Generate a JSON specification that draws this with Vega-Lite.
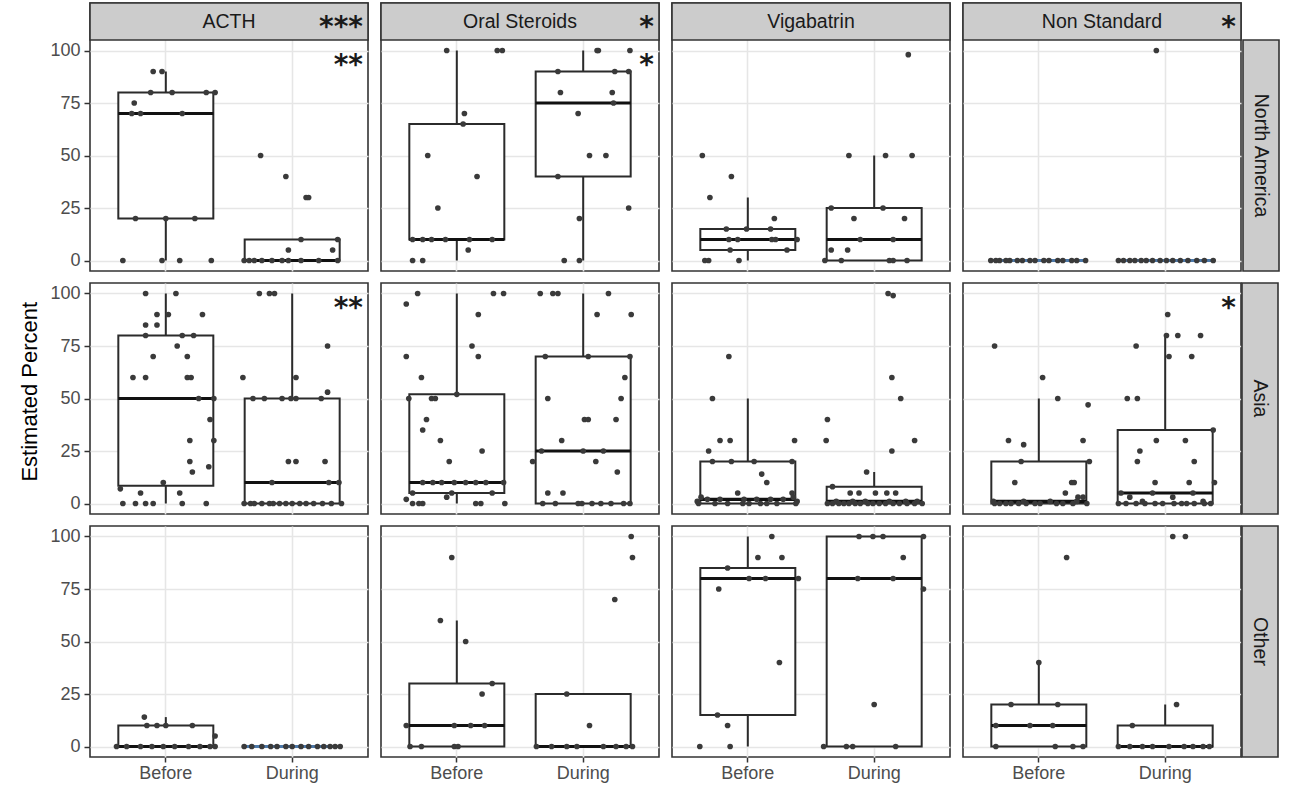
{
  "$schema": "https://vega.github.io/schema/vega-lite/v6.json",
  "background": "white",
  "padding": {"left": 18, "top": 1, "right": 10, "bottom": 4},
  "title": {"text": "Estimated Percent", "orient": "left", "anchor": "middle", "fontSize": 22, "fontWeight": "normal", "font": "Liberation Sans", "color": "#000000", "offset": 8},
  "data": {"name": "main"},
  "datasets": {
    "main": [
      {"kind":"strip","region":"North America","drug":"ACTH","label":"ACTH","stars":"***"},
      {"kind":"strip","region":"North America","drug":"Oral Steroids","label":"Oral Steroids","stars":"*"},
      {"kind":"strip","region":"North America","drug":"Vigabatrin","label":"Vigabatrin","stars":""},
      {"kind":"strip","region":"North America","drug":"Non Standard","label":"Non Standard","stars":"*"},
      {"kind":"star","region":"North America","drug":"ACTH","stars":"**"},
      {"kind":"star","region":"North America","drug":"Oral Steroids","stars":"*"},
      {"kind":"star","region":"Asia","drug":"ACTH","stars":"**"},
      {"kind":"star","region":"Asia","drug":"Non Standard","stars":"*"},
      {"kind":"rstrip","region":"North America","label":"North America"},
      {"kind":"rstrip","region":"Asia","label":"Asia"},
      {"kind":"rstrip","region":"Other","label":"Other"},

      {"region":"North America","drug":"ACTH","phase":"Before","value":90,"jitter":-0.1},
      {"region":"North America","drug":"ACTH","phase":"Before","value":90,"jitter":-0.03},
      {"region":"North America","drug":"ACTH","phase":"Before","value":75,"jitter":-0.25},
      {"region":"North America","drug":"ACTH","phase":"Before","value":80,"jitter":-0.12},
      {"region":"North America","drug":"ACTH","phase":"Before","value":80,"jitter":0.05},
      {"region":"North America","drug":"ACTH","phase":"Before","value":80,"jitter":0.32},
      {"region":"North America","drug":"ACTH","phase":"Before","value":80,"jitter":0.39},
      {"region":"North America","drug":"ACTH","phase":"Before","value":70,"jitter":-0.27},
      {"region":"North America","drug":"ACTH","phase":"Before","value":70,"jitter":-0.2},
      {"region":"North America","drug":"ACTH","phase":"Before","value":70,"jitter":0.13},
      {"region":"North America","drug":"ACTH","phase":"Before","value":20,"jitter":-0.24},
      {"region":"North America","drug":"ACTH","phase":"Before","value":20,"jitter":0.0},
      {"region":"North America","drug":"ACTH","phase":"Before","value":20,"jitter":0.23},
      {"region":"North America","drug":"ACTH","phase":"Before","value":0,"jitter":-0.34},
      {"region":"North America","drug":"ACTH","phase":"Before","value":0,"jitter":-0.03},
      {"region":"North America","drug":"ACTH","phase":"Before","value":0,"jitter":0.11},
      {"region":"North America","drug":"ACTH","phase":"Before","value":0,"jitter":0.36},

      {"region":"North America","drug":"ACTH","phase":"During","value":50,"jitter":-0.25},
      {"region":"North America","drug":"ACTH","phase":"During","value":40,"jitter":-0.05},
      {"region":"North America","drug":"ACTH","phase":"During","value":30,"jitter":0.11},
      {"region":"North America","drug":"ACTH","phase":"During","value":30,"jitter":0.13},
      {"region":"North America","drug":"ACTH","phase":"During","value":10,"jitter":0.07},
      {"region":"North America","drug":"ACTH","phase":"During","value":10,"jitter":0.36},
      {"region":"North America","drug":"ACTH","phase":"During","value":5,"jitter":-0.03},
      {"region":"North America","drug":"ACTH","phase":"During","value":5,"jitter":0.32},
      {"region":"North America","drug":"ACTH","phase":"During","value":0,"jitter":-0.38},
      {"region":"North America","drug":"ACTH","phase":"During","value":0,"jitter":-0.34},
      {"region":"North America","drug":"ACTH","phase":"During","value":0,"jitter":-0.3},
      {"region":"North America","drug":"ACTH","phase":"During","value":0,"jitter":-0.24},
      {"region":"North America","drug":"ACTH","phase":"During","value":0,"jitter":-0.16},
      {"region":"North America","drug":"ACTH","phase":"During","value":0,"jitter":-0.08},
      {"region":"North America","drug":"ACTH","phase":"During","value":0,"jitter":-0.03},
      {"region":"North America","drug":"ACTH","phase":"During","value":0,"jitter":0.07},
      {"region":"North America","drug":"ACTH","phase":"During","value":0,"jitter":0.21},
      {"region":"North America","drug":"ACTH","phase":"During","value":0,"jitter":0.36},

      {"region":"North America","drug":"Oral Steroids","phase":"Before","value":100,"jitter":-0.08},
      {"region":"North America","drug":"Oral Steroids","phase":"Before","value":100,"jitter":0.32},
      {"region":"North America","drug":"Oral Steroids","phase":"Before","value":100,"jitter":0.36},
      {"region":"North America","drug":"Oral Steroids","phase":"Before","value":70,"jitter":0.06},
      {"region":"North America","drug":"Oral Steroids","phase":"Before","value":65,"jitter":0.05},
      {"region":"North America","drug":"Oral Steroids","phase":"Before","value":50,"jitter":-0.23},
      {"region":"North America","drug":"Oral Steroids","phase":"Before","value":40,"jitter":0.16},
      {"region":"North America","drug":"Oral Steroids","phase":"Before","value":25,"jitter":-0.15},
      {"region":"North America","drug":"Oral Steroids","phase":"Before","value":10,"jitter":-0.27},
      {"region":"North America","drug":"Oral Steroids","phase":"Before","value":10,"jitter":-0.2},
      {"region":"North America","drug":"Oral Steroids","phase":"Before","value":10,"jitter":-0.09},
      {"region":"North America","drug":"Oral Steroids","phase":"Before","value":10,"jitter":0.28},
      {"region":"North America","drug":"Oral Steroids","phase":"Before","value":10,"jitter":-0.35},
      {"region":"North America","drug":"Oral Steroids","phase":"Before","value":10,"jitter":0.1},
      {"region":"North America","drug":"Oral Steroids","phase":"Before","value":5,"jitter":0.09},
      {"region":"North America","drug":"Oral Steroids","phase":"Before","value":0,"jitter":-0.35},
      {"region":"North America","drug":"Oral Steroids","phase":"Before","value":0,"jitter":-0.27},

      {"region":"North America","drug":"Oral Steroids","phase":"During","value":100,"jitter":0.11},
      {"region":"North America","drug":"Oral Steroids","phase":"During","value":100,"jitter":0.12},
      {"region":"North America","drug":"Oral Steroids","phase":"During","value":100,"jitter":0.37},
      {"region":"North America","drug":"Oral Steroids","phase":"During","value":90,"jitter":-0.2},
      {"region":"North America","drug":"Oral Steroids","phase":"During","value":90,"jitter":0.25},
      {"region":"North America","drug":"Oral Steroids","phase":"During","value":90,"jitter":0.36},
      {"region":"North America","drug":"Oral Steroids","phase":"During","value":80,"jitter":-0.18},
      {"region":"North America","drug":"Oral Steroids","phase":"During","value":80,"jitter":0.23},
      {"region":"North America","drug":"Oral Steroids","phase":"During","value":75,"jitter":0.24},
      {"region":"North America","drug":"Oral Steroids","phase":"During","value":70,"jitter":-0.04},
      {"region":"North America","drug":"Oral Steroids","phase":"During","value":50,"jitter":0.05},
      {"region":"North America","drug":"Oral Steroids","phase":"During","value":50,"jitter":0.18},
      {"region":"North America","drug":"Oral Steroids","phase":"During","value":40,"jitter":-0.2},
      {"region":"North America","drug":"Oral Steroids","phase":"During","value":25,"jitter":0.36},
      {"region":"North America","drug":"Oral Steroids","phase":"During","value":20,"jitter":-0.03},
      {"region":"North America","drug":"Oral Steroids","phase":"During","value":0,"jitter":-0.15},
      {"region":"North America","drug":"Oral Steroids","phase":"During","value":0,"jitter":-0.03},

      {"region":"North America","drug":"Vigabatrin","phase":"Before","value":50,"jitter":-0.36},
      {"region":"North America","drug":"Vigabatrin","phase":"Before","value":40,"jitter":-0.13},
      {"region":"North America","drug":"Vigabatrin","phase":"Before","value":30,"jitter":-0.3},
      {"region":"North America","drug":"Vigabatrin","phase":"Before","value":20,"jitter":0.21},
      {"region":"North America","drug":"Vigabatrin","phase":"Before","value":15,"jitter":-0.17},
      {"region":"North America","drug":"Vigabatrin","phase":"Before","value":15,"jitter":0.18},
      {"region":"North America","drug":"Vigabatrin","phase":"Before","value":15,"jitter":-0.01},
      {"region":"North America","drug":"Vigabatrin","phase":"Before","value":10,"jitter":-0.15},
      {"region":"North America","drug":"Vigabatrin","phase":"Before","value":10,"jitter":-0.08},
      {"region":"North America","drug":"Vigabatrin","phase":"Before","value":10,"jitter":0.19},
      {"region":"North America","drug":"Vigabatrin","phase":"Before","value":10,"jitter":0.22},
      {"region":"North America","drug":"Vigabatrin","phase":"Before","value":10,"jitter":0.39},
      {"region":"North America","drug":"Vigabatrin","phase":"Before","value":5,"jitter":-0.14},
      {"region":"North America","drug":"Vigabatrin","phase":"Before","value":5,"jitter":0.31},
      {"region":"North America","drug":"Vigabatrin","phase":"Before","value":0,"jitter":-0.34},
      {"region":"North America","drug":"Vigabatrin","phase":"Before","value":0,"jitter":-0.31},
      {"region":"North America","drug":"Vigabatrin","phase":"Before","value":0,"jitter":-0.07},

      {"region":"North America","drug":"Vigabatrin","phase":"During","value":98,"jitter":0.27},
      {"region":"North America","drug":"Vigabatrin","phase":"During","value":50,"jitter":-0.2},
      {"region":"North America","drug":"Vigabatrin","phase":"During","value":50,"jitter":0.09},
      {"region":"North America","drug":"Vigabatrin","phase":"During","value":50,"jitter":0.3},
      {"region":"North America","drug":"Vigabatrin","phase":"During","value":25,"jitter":0.07},
      {"region":"North America","drug":"Vigabatrin","phase":"During","value":25,"jitter":-0.34},
      {"region":"North America","drug":"Vigabatrin","phase":"During","value":20,"jitter":-0.16},
      {"region":"North America","drug":"Vigabatrin","phase":"During","value":20,"jitter":0.24},
      {"region":"North America","drug":"Vigabatrin","phase":"During","value":10,"jitter":-0.11},
      {"region":"North America","drug":"Vigabatrin","phase":"During","value":10,"jitter":0.15},
      {"region":"North America","drug":"Vigabatrin","phase":"During","value":5,"jitter":-0.34},
      {"region":"North America","drug":"Vigabatrin","phase":"During","value":5,"jitter":-0.21},
      {"region":"North America","drug":"Vigabatrin","phase":"During","value":0,"jitter":-0.39},
      {"region":"North America","drug":"Vigabatrin","phase":"During","value":0,"jitter":-0.26},
      {"region":"North America","drug":"Vigabatrin","phase":"During","value":0,"jitter":0.12},
      {"region":"North America","drug":"Vigabatrin","phase":"During","value":0,"jitter":0.15},
      {"region":"North America","drug":"Vigabatrin","phase":"During","value":0,"jitter":0.26},

      {"region":"North America","drug":"Non Standard","phase":"Before","value":0,"jitter":-0.38},
      {"region":"North America","drug":"Non Standard","phase":"Before","value":0,"jitter":-0.34},
      {"region":"North America","drug":"Non Standard","phase":"Before","value":0,"jitter":-0.31},
      {"region":"North America","drug":"Non Standard","phase":"Before","value":0,"jitter":-0.26},
      {"region":"North America","drug":"Non Standard","phase":"Before","value":0,"jitter":-0.23},
      {"region":"North America","drug":"Non Standard","phase":"Before","value":0,"jitter":-0.17},
      {"region":"North America","drug":"Non Standard","phase":"Before","value":0,"jitter":-0.13},
      {"region":"North America","drug":"Non Standard","phase":"Before","value":0,"jitter":-0.07},
      {"region":"North America","drug":"Non Standard","phase":"Before","value":0,"jitter":-0.03},
      {"region":"North America","drug":"Non Standard","phase":"Before","value":0,"jitter":0.04},
      {"region":"North America","drug":"Non Standard","phase":"Before","value":0,"jitter":0.08},
      {"region":"North America","drug":"Non Standard","phase":"Before","value":0,"jitter":0.15},
      {"region":"North America","drug":"Non Standard","phase":"Before","value":0,"jitter":0.19},
      {"region":"North America","drug":"Non Standard","phase":"Before","value":0,"jitter":0.26},
      {"region":"North America","drug":"Non Standard","phase":"Before","value":0,"jitter":0.3},
      {"region":"North America","drug":"Non Standard","phase":"Before","value":0,"jitter":0.37},

      {"region":"North America","drug":"Non Standard","phase":"During","value":100,"jitter":-0.07},
      {"region":"North America","drug":"Non Standard","phase":"During","value":0,"jitter":-0.37},
      {"region":"North America","drug":"Non Standard","phase":"During","value":0,"jitter":-0.33},
      {"region":"North America","drug":"Non Standard","phase":"During","value":0,"jitter":-0.28},
      {"region":"North America","drug":"Non Standard","phase":"During","value":0,"jitter":-0.24},
      {"region":"North America","drug":"Non Standard","phase":"During","value":0,"jitter":-0.19},
      {"region":"North America","drug":"Non Standard","phase":"During","value":0,"jitter":-0.15},
      {"region":"North America","drug":"Non Standard","phase":"During","value":0,"jitter":-0.1},
      {"region":"North America","drug":"Non Standard","phase":"During","value":0,"jitter":-0.04},
      {"region":"North America","drug":"Non Standard","phase":"During","value":0,"jitter":0.01},
      {"region":"North America","drug":"Non Standard","phase":"During","value":0,"jitter":0.06},
      {"region":"North America","drug":"Non Standard","phase":"During","value":0,"jitter":0.12},
      {"region":"North America","drug":"Non Standard","phase":"During","value":0,"jitter":0.18},
      {"region":"North America","drug":"Non Standard","phase":"During","value":0,"jitter":0.25},
      {"region":"North America","drug":"Non Standard","phase":"During","value":0,"jitter":0.31},
      {"region":"North America","drug":"Non Standard","phase":"During","value":0,"jitter":0.38},

      {"region":"Asia","drug":"ACTH","phase":"Before","value":100,"jitter":-0.16},
      {"region":"Asia","drug":"ACTH","phase":"Before","value":100,"jitter":0.08},
      {"region":"Asia","drug":"ACTH","phase":"Before","value":90,"jitter":-0.07},
      {"region":"Asia","drug":"ACTH","phase":"Before","value":90,"jitter":0.02},
      {"region":"Asia","drug":"ACTH","phase":"Before","value":90,"jitter":0.29},
      {"region":"Asia","drug":"ACTH","phase":"Before","value":85,"jitter":-0.16},
      {"region":"Asia","drug":"ACTH","phase":"Before","value":85,"jitter":-0.07},
      {"region":"Asia","drug":"ACTH","phase":"Before","value":80,"jitter":-0.16},
      {"region":"Asia","drug":"ACTH","phase":"Before","value":80,"jitter":0.13},
      {"region":"Asia","drug":"ACTH","phase":"Before","value":80,"jitter":0.22},
      {"region":"Asia","drug":"ACTH","phase":"Before","value":75,"jitter":0.09},
      {"region":"Asia","drug":"ACTH","phase":"Before","value":70,"jitter":-0.1},
      {"region":"Asia","drug":"ACTH","phase":"Before","value":70,"jitter":0.17},
      {"region":"Asia","drug":"ACTH","phase":"Before","value":60,"jitter":-0.26},
      {"region":"Asia","drug":"ACTH","phase":"Before","value":60,"jitter":-0.16},
      {"region":"Asia","drug":"ACTH","phase":"Before","value":60,"jitter":0.17},
      {"region":"Asia","drug":"ACTH","phase":"Before","value":60,"jitter":0.2},
      {"region":"Asia","drug":"ACTH","phase":"Before","value":50,"jitter":0.26},
      {"region":"Asia","drug":"ACTH","phase":"Before","value":50,"jitter":0.38},
      {"region":"Asia","drug":"ACTH","phase":"Before","value":40,"jitter":0.35},
      {"region":"Asia","drug":"ACTH","phase":"Before","value":30,"jitter":0.19},
      {"region":"Asia","drug":"ACTH","phase":"Before","value":30,"jitter":0.38},
      {"region":"Asia","drug":"ACTH","phase":"Before","value":20,"jitter":0.19},
      {"region":"Asia","drug":"ACTH","phase":"Before","value":17.5,"jitter":0.34},
      {"region":"Asia","drug":"ACTH","phase":"Before","value":15,"jitter":0.21},
      {"region":"Asia","drug":"ACTH","phase":"Before","value":10,"jitter":-0.02},
      {"region":"Asia","drug":"ACTH","phase":"Before","value":7,"jitter":-0.36},
      {"region":"Asia","drug":"ACTH","phase":"Before","value":5,"jitter":-0.2},
      {"region":"Asia","drug":"ACTH","phase":"Before","value":5,"jitter":0.11},
      {"region":"Asia","drug":"ACTH","phase":"Before","value":0,"jitter":-0.34},
      {"region":"Asia","drug":"ACTH","phase":"Before","value":0,"jitter":-0.24},
      {"region":"Asia","drug":"ACTH","phase":"Before","value":0,"jitter":-0.16},
      {"region":"Asia","drug":"ACTH","phase":"Before","value":0,"jitter":-0.1},
      {"region":"Asia","drug":"ACTH","phase":"Before","value":0,"jitter":0.13},
      {"region":"Asia","drug":"ACTH","phase":"Before","value":0,"jitter":0.32},

      {"region":"Asia","drug":"ACTH","phase":"During","value":100,"jitter":-0.26},
      {"region":"Asia","drug":"ACTH","phase":"During","value":100,"jitter":-0.18},
      {"region":"Asia","drug":"ACTH","phase":"During","value":100,"jitter":-0.14},
      {"region":"Asia","drug":"ACTH","phase":"During","value":75,"jitter":0.28},
      {"region":"Asia","drug":"ACTH","phase":"During","value":60,"jitter":-0.39},
      {"region":"Asia","drug":"ACTH","phase":"During","value":60,"jitter":0.03},
      {"region":"Asia","drug":"ACTH","phase":"During","value":53,"jitter":0.28},
      {"region":"Asia","drug":"ACTH","phase":"During","value":50,"jitter":-0.31},
      {"region":"Asia","drug":"ACTH","phase":"During","value":50,"jitter":-0.22},
      {"region":"Asia","drug":"ACTH","phase":"During","value":50,"jitter":-0.08},
      {"region":"Asia","drug":"ACTH","phase":"During","value":50,"jitter":-0.01},
      {"region":"Asia","drug":"ACTH","phase":"During","value":50,"jitter":0.03},
      {"region":"Asia","drug":"ACTH","phase":"During","value":50,"jitter":0.23},
      {"region":"Asia","drug":"ACTH","phase":"During","value":20,"jitter":-0.03},
      {"region":"Asia","drug":"ACTH","phase":"During","value":20,"jitter":0.03},
      {"region":"Asia","drug":"ACTH","phase":"During","value":20,"jitter":0.26},
      {"region":"Asia","drug":"ACTH","phase":"During","value":10,"jitter":-0.16},
      {"region":"Asia","drug":"ACTH","phase":"During","value":10,"jitter":0.29},
      {"region":"Asia","drug":"ACTH","phase":"During","value":10,"jitter":0.37},
      {"region":"Asia","drug":"ACTH","phase":"During","value":0,"jitter":-0.38},
      {"region":"Asia","drug":"ACTH","phase":"During","value":0,"jitter":-0.33},
      {"region":"Asia","drug":"ACTH","phase":"During","value":0,"jitter":-0.3},
      {"region":"Asia","drug":"ACTH","phase":"During","value":0,"jitter":-0.24},
      {"region":"Asia","drug":"ACTH","phase":"During","value":0,"jitter":-0.18},
      {"region":"Asia","drug":"ACTH","phase":"During","value":0,"jitter":-0.15},
      {"region":"Asia","drug":"ACTH","phase":"During","value":0,"jitter":-0.1},
      {"region":"Asia","drug":"ACTH","phase":"During","value":0,"jitter":-0.05},
      {"region":"Asia","drug":"ACTH","phase":"During","value":0,"jitter":0.0},
      {"region":"Asia","drug":"ACTH","phase":"During","value":0,"jitter":0.06},
      {"region":"Asia","drug":"ACTH","phase":"During","value":0,"jitter":0.11},
      {"region":"Asia","drug":"ACTH","phase":"During","value":0,"jitter":0.17},
      {"region":"Asia","drug":"ACTH","phase":"During","value":0,"jitter":0.24},
      {"region":"Asia","drug":"ACTH","phase":"During","value":0,"jitter":0.31},
      {"region":"Asia","drug":"ACTH","phase":"During","value":0,"jitter":0.39},

      {"region":"Asia","drug":"Oral Steroids","phase":"Before","value":100,"jitter":-0.31},
      {"region":"Asia","drug":"Oral Steroids","phase":"Before","value":100,"jitter":0.29},
      {"region":"Asia","drug":"Oral Steroids","phase":"Before","value":100,"jitter":0.37},
      {"region":"Asia","drug":"Oral Steroids","phase":"Before","value":95,"jitter":-0.4},
      {"region":"Asia","drug":"Oral Steroids","phase":"Before","value":90,"jitter":0.17},
      {"region":"Asia","drug":"Oral Steroids","phase":"Before","value":75,"jitter":0.12},
      {"region":"Asia","drug":"Oral Steroids","phase":"Before","value":70,"jitter":-0.4},
      {"region":"Asia","drug":"Oral Steroids","phase":"Before","value":70,"jitter":0.17},
      {"region":"Asia","drug":"Oral Steroids","phase":"Before","value":60,"jitter":-0.28},
      {"region":"Asia","drug":"Oral Steroids","phase":"Before","value":52,"jitter":0.0},
      {"region":"Asia","drug":"Oral Steroids","phase":"Before","value":50,"jitter":-0.38},
      {"region":"Asia","drug":"Oral Steroids","phase":"Before","value":50,"jitter":-0.2},
      {"region":"Asia","drug":"Oral Steroids","phase":"Before","value":50,"jitter":-0.17},
      {"region":"Asia","drug":"Oral Steroids","phase":"Before","value":40,"jitter":-0.24},
      {"region":"Asia","drug":"Oral Steroids","phase":"Before","value":35,"jitter":-0.27},
      {"region":"Asia","drug":"Oral Steroids","phase":"Before","value":30,"jitter":-0.13},
      {"region":"Asia","drug":"Oral Steroids","phase":"Before","value":25,"jitter":0.2},
      {"region":"Asia","drug":"Oral Steroids","phase":"Before","value":20,"jitter":-0.06},
      {"region":"Asia","drug":"Oral Steroids","phase":"Before","value":10,"jitter":-0.27},
      {"region":"Asia","drug":"Oral Steroids","phase":"Before","value":10,"jitter":-0.12},
      {"region":"Asia","drug":"Oral Steroids","phase":"Before","value":10,"jitter":-0.02},
      {"region":"Asia","drug":"Oral Steroids","phase":"Before","value":10,"jitter":0.15},
      {"region":"Asia","drug":"Oral Steroids","phase":"Before","value":10,"jitter":0.37},
      {"region":"Asia","drug":"Oral Steroids","phase":"Before","value":10,"jitter":-0.19},
      {"region":"Asia","drug":"Oral Steroids","phase":"Before","value":10,"jitter":0.07},
      {"region":"Asia","drug":"Oral Steroids","phase":"Before","value":10,"jitter":0.23},
      {"region":"Asia","drug":"Oral Steroids","phase":"Before","value":5,"jitter":-0.04},
      {"region":"Asia","drug":"Oral Steroids","phase":"Before","value":5,"jitter":0.28},
      {"region":"Asia","drug":"Oral Steroids","phase":"Before","value":5,"jitter":-0.35},
      {"region":"Asia","drug":"Oral Steroids","phase":"Before","value":3,"jitter":-0.08},
      {"region":"Asia","drug":"Oral Steroids","phase":"Before","value":2,"jitter":-0.4},
      {"region":"Asia","drug":"Oral Steroids","phase":"Before","value":0,"jitter":-0.35},
      {"region":"Asia","drug":"Oral Steroids","phase":"Before","value":0,"jitter":-0.27},
      {"region":"Asia","drug":"Oral Steroids","phase":"Before","value":0,"jitter":0.15},
      {"region":"Asia","drug":"Oral Steroids","phase":"Before","value":0,"jitter":0.19},
      {"region":"Asia","drug":"Oral Steroids","phase":"Before","value":0,"jitter":0.38},
      {"region":"Asia","drug":"Oral Steroids","phase":"Before","value":0,"jitter":-0.3},

      {"region":"Asia","drug":"Oral Steroids","phase":"During","value":100,"jitter":-0.34},
      {"region":"Asia","drug":"Oral Steroids","phase":"During","value":100,"jitter":-0.24},
      {"region":"Asia","drug":"Oral Steroids","phase":"During","value":100,"jitter":-0.2},
      {"region":"Asia","drug":"Oral Steroids","phase":"During","value":100,"jitter":0.2},
      {"region":"Asia","drug":"Oral Steroids","phase":"During","value":90,"jitter":0.11},
      {"region":"Asia","drug":"Oral Steroids","phase":"During","value":90,"jitter":0.38},
      {"region":"Asia","drug":"Oral Steroids","phase":"During","value":70,"jitter":-0.3},
      {"region":"Asia","drug":"Oral Steroids","phase":"During","value":70,"jitter":0.04},
      {"region":"Asia","drug":"Oral Steroids","phase":"During","value":70,"jitter":0.37},
      {"region":"Asia","drug":"Oral Steroids","phase":"During","value":60,"jitter":0.33},
      {"region":"Asia","drug":"Oral Steroids","phase":"During","value":50,"jitter":-0.28},
      {"region":"Asia","drug":"Oral Steroids","phase":"During","value":50,"jitter":0.3},
      {"region":"Asia","drug":"Oral Steroids","phase":"During","value":40,"jitter":0.01},
      {"region":"Asia","drug":"Oral Steroids","phase":"During","value":40,"jitter":0.04},
      {"region":"Asia","drug":"Oral Steroids","phase":"During","value":40,"jitter":0.26},
      {"region":"Asia","drug":"Oral Steroids","phase":"During","value":30,"jitter":-0.17},
      {"region":"Asia","drug":"Oral Steroids","phase":"During","value":25,"jitter":-0.33},
      {"region":"Asia","drug":"Oral Steroids","phase":"During","value":25,"jitter":0.16},
      {"region":"Asia","drug":"Oral Steroids","phase":"During","value":25,"jitter":0.0},
      {"region":"Asia","drug":"Oral Steroids","phase":"During","value":20,"jitter":-0.4},
      {"region":"Asia","drug":"Oral Steroids","phase":"During","value":20,"jitter":0.1},
      {"region":"Asia","drug":"Oral Steroids","phase":"During","value":15,"jitter":0.27},
      {"region":"Asia","drug":"Oral Steroids","phase":"During","value":5,"jitter":-0.28},
      {"region":"Asia","drug":"Oral Steroids","phase":"During","value":5,"jitter":-0.16},
      {"region":"Asia","drug":"Oral Steroids","phase":"During","value":0,"jitter":-0.32},
      {"region":"Asia","drug":"Oral Steroids","phase":"During","value":0,"jitter":-0.22},
      {"region":"Asia","drug":"Oral Steroids","phase":"During","value":0,"jitter":-0.04},
      {"region":"Asia","drug":"Oral Steroids","phase":"During","value":0,"jitter":-0.01},
      {"region":"Asia","drug":"Oral Steroids","phase":"During","value":0,"jitter":0.07},
      {"region":"Asia","drug":"Oral Steroids","phase":"During","value":0,"jitter":0.14},
      {"region":"Asia","drug":"Oral Steroids","phase":"During","value":0,"jitter":0.22},
      {"region":"Asia","drug":"Oral Steroids","phase":"During","value":0,"jitter":0.32},
      {"region":"Asia","drug":"Oral Steroids","phase":"During","value":0,"jitter":0.37},

      {"region":"Asia","drug":"Vigabatrin","phase":"Before","value":70,"jitter":-0.15},
      {"region":"Asia","drug":"Vigabatrin","phase":"Before","value":50,"jitter":-0.28},
      {"region":"Asia","drug":"Vigabatrin","phase":"Before","value":30,"jitter":-0.22},
      {"region":"Asia","drug":"Vigabatrin","phase":"Before","value":30,"jitter":-0.14},
      {"region":"Asia","drug":"Vigabatrin","phase":"Before","value":30,"jitter":0.37},
      {"region":"Asia","drug":"Vigabatrin","phase":"Before","value":25,"jitter":-0.31},
      {"region":"Asia","drug":"Vigabatrin","phase":"Before","value":20,"jitter":-0.28},
      {"region":"Asia","drug":"Vigabatrin","phase":"Before","value":20,"jitter":-0.13},
      {"region":"Asia","drug":"Vigabatrin","phase":"Before","value":20,"jitter":0.05},
      {"region":"Asia","drug":"Vigabatrin","phase":"Before","value":20,"jitter":0.35},
      {"region":"Asia","drug":"Vigabatrin","phase":"Before","value":14,"jitter":0.11},
      {"region":"Asia","drug":"Vigabatrin","phase":"Before","value":10,"jitter":0.15},
      {"region":"Asia","drug":"Vigabatrin","phase":"Before","value":5,"jitter":-0.08},
      {"region":"Asia","drug":"Vigabatrin","phase":"Before","value":5,"jitter":0.35},
      {"region":"Asia","drug":"Vigabatrin","phase":"Before","value":3,"jitter":-0.37},
      {"region":"Asia","drug":"Vigabatrin","phase":"Before","value":3,"jitter":0.36},
      {"region":"Asia","drug":"Vigabatrin","phase":"Before","value":2,"jitter":-0.32},
      {"region":"Asia","drug":"Vigabatrin","phase":"Before","value":2,"jitter":-0.22},
      {"region":"Asia","drug":"Vigabatrin","phase":"Before","value":2,"jitter":-0.03},
      {"region":"Asia","drug":"Vigabatrin","phase":"Before","value":2,"jitter":0.07},
      {"region":"Asia","drug":"Vigabatrin","phase":"Before","value":2,"jitter":0.18},
      {"region":"Asia","drug":"Vigabatrin","phase":"Before","value":2,"jitter":0.28},
      {"region":"Asia","drug":"Vigabatrin","phase":"Before","value":1,"jitter":-0.4},
      {"region":"Asia","drug":"Vigabatrin","phase":"Before","value":1,"jitter":0.39},
      {"region":"Asia","drug":"Vigabatrin","phase":"Before","value":0,"jitter":-0.39},
      {"region":"Asia","drug":"Vigabatrin","phase":"Before","value":0,"jitter":-0.26},
      {"region":"Asia","drug":"Vigabatrin","phase":"Before","value":0,"jitter":-0.16},
      {"region":"Asia","drug":"Vigabatrin","phase":"Before","value":0,"jitter":-0.04},
      {"region":"Asia","drug":"Vigabatrin","phase":"Before","value":0,"jitter":0.01},
      {"region":"Asia","drug":"Vigabatrin","phase":"Before","value":0,"jitter":0.1},
      {"region":"Asia","drug":"Vigabatrin","phase":"Before","value":0,"jitter":0.15},
      {"region":"Asia","drug":"Vigabatrin","phase":"Before","value":0,"jitter":0.23},
      {"region":"Asia","drug":"Vigabatrin","phase":"Before","value":0,"jitter":0.38},

      {"region":"Asia","drug":"Vigabatrin","phase":"During","value":100,"jitter":0.11},
      {"region":"Asia","drug":"Vigabatrin","phase":"During","value":99,"jitter":0.15},
      {"region":"Asia","drug":"Vigabatrin","phase":"During","value":60,"jitter":0.14},
      {"region":"Asia","drug":"Vigabatrin","phase":"During","value":50,"jitter":0.21},
      {"region":"Asia","drug":"Vigabatrin","phase":"During","value":40,"jitter":-0.37},
      {"region":"Asia","drug":"Vigabatrin","phase":"During","value":30,"jitter":-0.38},
      {"region":"Asia","drug":"Vigabatrin","phase":"During","value":30,"jitter":0.32},
      {"region":"Asia","drug":"Vigabatrin","phase":"During","value":25,"jitter":0.14},
      {"region":"Asia","drug":"Vigabatrin","phase":"During","value":15,"jitter":-0.06},
      {"region":"Asia","drug":"Vigabatrin","phase":"During","value":8,"jitter":-0.33},
      {"region":"Asia","drug":"Vigabatrin","phase":"During","value":5,"jitter":-0.19},
      {"region":"Asia","drug":"Vigabatrin","phase":"During","value":5,"jitter":0.01},
      {"region":"Asia","drug":"Vigabatrin","phase":"During","value":5,"jitter":0.1},
      {"region":"Asia","drug":"Vigabatrin","phase":"During","value":5,"jitter":0.17},
      {"region":"Asia","drug":"Vigabatrin","phase":"During","value":5,"jitter":-0.12},
      {"region":"Asia","drug":"Vigabatrin","phase":"During","value":1,"jitter":-0.3},
      {"region":"Asia","drug":"Vigabatrin","phase":"During","value":1,"jitter":-0.17},
      {"region":"Asia","drug":"Vigabatrin","phase":"During","value":1,"jitter":-0.07},
      {"region":"Asia","drug":"Vigabatrin","phase":"During","value":1,"jitter":0.12},
      {"region":"Asia","drug":"Vigabatrin","phase":"During","value":1,"jitter":0.25},
      {"region":"Asia","drug":"Vigabatrin","phase":"During","value":1,"jitter":0.34},
      {"region":"Asia","drug":"Vigabatrin","phase":"During","value":0,"jitter":-0.37},
      {"region":"Asia","drug":"Vigabatrin","phase":"During","value":0,"jitter":-0.33},
      {"region":"Asia","drug":"Vigabatrin","phase":"During","value":0,"jitter":-0.28},
      {"region":"Asia","drug":"Vigabatrin","phase":"During","value":0,"jitter":-0.24},
      {"region":"Asia","drug":"Vigabatrin","phase":"During","value":0,"jitter":-0.2},
      {"region":"Asia","drug":"Vigabatrin","phase":"During","value":0,"jitter":-0.15},
      {"region":"Asia","drug":"Vigabatrin","phase":"During","value":0,"jitter":-0.11},
      {"region":"Asia","drug":"Vigabatrin","phase":"During","value":0,"jitter":-0.05},
      {"region":"Asia","drug":"Vigabatrin","phase":"During","value":0,"jitter":-0.01},
      {"region":"Asia","drug":"Vigabatrin","phase":"During","value":0,"jitter":0.04},
      {"region":"Asia","drug":"Vigabatrin","phase":"During","value":0,"jitter":0.09},
      {"region":"Asia","drug":"Vigabatrin","phase":"During","value":0,"jitter":0.15},
      {"region":"Asia","drug":"Vigabatrin","phase":"During","value":0,"jitter":0.2},
      {"region":"Asia","drug":"Vigabatrin","phase":"During","value":0,"jitter":0.26},
      {"region":"Asia","drug":"Vigabatrin","phase":"During","value":0,"jitter":0.32},
      {"region":"Asia","drug":"Vigabatrin","phase":"During","value":0,"jitter":0.38},

      {"region":"Asia","drug":"Non Standard","phase":"Before","value":75,"jitter":-0.35},
      {"region":"Asia","drug":"Non Standard","phase":"Before","value":60,"jitter":0.03},
      {"region":"Asia","drug":"Non Standard","phase":"Before","value":50,"jitter":0.15},
      {"region":"Asia","drug":"Non Standard","phase":"Before","value":47,"jitter":0.39},
      {"region":"Asia","drug":"Non Standard","phase":"Before","value":30,"jitter":-0.24},
      {"region":"Asia","drug":"Non Standard","phase":"Before","value":30,"jitter":0.35},
      {"region":"Asia","drug":"Non Standard","phase":"Before","value":28,"jitter":-0.12},
      {"region":"Asia","drug":"Non Standard","phase":"Before","value":20,"jitter":-0.14},
      {"region":"Asia","drug":"Non Standard","phase":"Before","value":20,"jitter":0.4},
      {"region":"Asia","drug":"Non Standard","phase":"Before","value":10,"jitter":-0.19},
      {"region":"Asia","drug":"Non Standard","phase":"Before","value":10,"jitter":0.26},
      {"region":"Asia","drug":"Non Standard","phase":"Before","value":10,"jitter":0.28},
      {"region":"Asia","drug":"Non Standard","phase":"Before","value":5,"jitter":0.21},
      {"region":"Asia","drug":"Non Standard","phase":"Before","value":3,"jitter":0.31},
      {"region":"Asia","drug":"Non Standard","phase":"Before","value":3,"jitter":0.35},
      {"region":"Asia","drug":"Non Standard","phase":"Before","value":1,"jitter":-0.36},
      {"region":"Asia","drug":"Non Standard","phase":"Before","value":1,"jitter":-0.12},
      {"region":"Asia","drug":"Non Standard","phase":"Before","value":1,"jitter":0.09},
      {"region":"Asia","drug":"Non Standard","phase":"Before","value":1,"jitter":0.3},
      {"region":"Asia","drug":"Non Standard","phase":"Before","value":0,"jitter":-0.35},
      {"region":"Asia","drug":"Non Standard","phase":"Before","value":0,"jitter":-0.31},
      {"region":"Asia","drug":"Non Standard","phase":"Before","value":0,"jitter":-0.26},
      {"region":"Asia","drug":"Non Standard","phase":"Before","value":0,"jitter":-0.22},
      {"region":"Asia","drug":"Non Standard","phase":"Before","value":0,"jitter":-0.16},
      {"region":"Asia","drug":"Non Standard","phase":"Before","value":0,"jitter":-0.1},
      {"region":"Asia","drug":"Non Standard","phase":"Before","value":0,"jitter":-0.03},
      {"region":"Asia","drug":"Non Standard","phase":"Before","value":0,"jitter":0.01},
      {"region":"Asia","drug":"Non Standard","phase":"Before","value":0,"jitter":0.14},
      {"region":"Asia","drug":"Non Standard","phase":"Before","value":0,"jitter":0.19},
      {"region":"Asia","drug":"Non Standard","phase":"Before","value":0,"jitter":0.27},
      {"region":"Asia","drug":"Non Standard","phase":"Before","value":0,"jitter":0.38},

      {"region":"Asia","drug":"Non Standard","phase":"During","value":90,"jitter":0.02},
      {"region":"Asia","drug":"Non Standard","phase":"During","value":80,"jitter":0.01},
      {"region":"Asia","drug":"Non Standard","phase":"During","value":80,"jitter":0.1},
      {"region":"Asia","drug":"Non Standard","phase":"During","value":80,"jitter":0.28},
      {"region":"Asia","drug":"Non Standard","phase":"During","value":75,"jitter":-0.23},
      {"region":"Asia","drug":"Non Standard","phase":"During","value":70,"jitter":0.03},
      {"region":"Asia","drug":"Non Standard","phase":"During","value":70,"jitter":0.21},
      {"region":"Asia","drug":"Non Standard","phase":"During","value":50,"jitter":-0.3},
      {"region":"Asia","drug":"Non Standard","phase":"During","value":50,"jitter":-0.22},
      {"region":"Asia","drug":"Non Standard","phase":"During","value":35,"jitter":0.38},
      {"region":"Asia","drug":"Non Standard","phase":"During","value":30,"jitter":-0.07},
      {"region":"Asia","drug":"Non Standard","phase":"During","value":30,"jitter":0.16},
      {"region":"Asia","drug":"Non Standard","phase":"During","value":25,"jitter":-0.2},
      {"region":"Asia","drug":"Non Standard","phase":"During","value":20,"jitter":-0.22},
      {"region":"Asia","drug":"Non Standard","phase":"During","value":20,"jitter":0.23},
      {"region":"Asia","drug":"Non Standard","phase":"During","value":10,"jitter":-0.08},
      {"region":"Asia","drug":"Non Standard","phase":"During","value":10,"jitter":0.19},
      {"region":"Asia","drug":"Non Standard","phase":"During","value":10,"jitter":0.39},
      {"region":"Asia","drug":"Non Standard","phase":"During","value":5,"jitter":-0.35},
      {"region":"Asia","drug":"Non Standard","phase":"During","value":5,"jitter":-0.1},
      {"region":"Asia","drug":"Non Standard","phase":"During","value":5,"jitter":0.22},
      {"region":"Asia","drug":"Non Standard","phase":"During","value":3,"jitter":-0.28},
      {"region":"Asia","drug":"Non Standard","phase":"During","value":3,"jitter":0.06},
      {"region":"Asia","drug":"Non Standard","phase":"During","value":1,"jitter":-0.18},
      {"region":"Asia","drug":"Non Standard","phase":"During","value":1,"jitter":0.3},
      {"region":"Asia","drug":"Non Standard","phase":"During","value":0,"jitter":-0.37},
      {"region":"Asia","drug":"Non Standard","phase":"During","value":0,"jitter":-0.31},
      {"region":"Asia","drug":"Non Standard","phase":"During","value":0,"jitter":-0.23},
      {"region":"Asia","drug":"Non Standard","phase":"During","value":0,"jitter":-0.16},
      {"region":"Asia","drug":"Non Standard","phase":"During","value":0,"jitter":-0.08},
      {"region":"Asia","drug":"Non Standard","phase":"During","value":0,"jitter":-0.02},
      {"region":"Asia","drug":"Non Standard","phase":"During","value":0,"jitter":0.07},
      {"region":"Asia","drug":"Non Standard","phase":"During","value":0,"jitter":0.13},
      {"region":"Asia","drug":"Non Standard","phase":"During","value":0,"jitter":0.17},
      {"region":"Asia","drug":"Non Standard","phase":"During","value":0,"jitter":0.23},
      {"region":"Asia","drug":"Non Standard","phase":"During","value":0,"jitter":0.31},
      {"region":"Asia","drug":"Non Standard","phase":"During","value":0,"jitter":0.36},

      {"region":"Other","drug":"ACTH","phase":"Before","value":14,"jitter":-0.17},
      {"region":"Other","drug":"ACTH","phase":"Before","value":10,"jitter":-0.15},
      {"region":"Other","drug":"ACTH","phase":"Before","value":10,"jitter":-0.07},
      {"region":"Other","drug":"ACTH","phase":"Before","value":10,"jitter":0.21},
      {"region":"Other","drug":"ACTH","phase":"Before","value":10,"jitter":0.0},
      {"region":"Other","drug":"ACTH","phase":"Before","value":5,"jitter":0.39},
      {"region":"Other","drug":"ACTH","phase":"Before","value":0,"jitter":-0.39},
      {"region":"Other","drug":"ACTH","phase":"Before","value":0,"jitter":-0.31},
      {"region":"Other","drug":"ACTH","phase":"Before","value":0,"jitter":-0.2},
      {"region":"Other","drug":"ACTH","phase":"Before","value":0,"jitter":-0.11},
      {"region":"Other","drug":"ACTH","phase":"Before","value":0,"jitter":-0.02},
      {"region":"Other","drug":"ACTH","phase":"Before","value":0,"jitter":0.07},
      {"region":"Other","drug":"ACTH","phase":"Before","value":0,"jitter":0.18},
      {"region":"Other","drug":"ACTH","phase":"Before","value":0,"jitter":0.27},
      {"region":"Other","drug":"ACTH","phase":"Before","value":0,"jitter":0.35},
      {"region":"Other","drug":"ACTH","phase":"Before","value":0,"jitter":0.39},

      {"region":"Other","drug":"ACTH","phase":"During","value":0,"jitter":-0.38},
      {"region":"Other","drug":"ACTH","phase":"During","value":0,"jitter":-0.32},
      {"region":"Other","drug":"ACTH","phase":"During","value":0,"jitter":-0.24},
      {"region":"Other","drug":"ACTH","phase":"During","value":0,"jitter":-0.17},
      {"region":"Other","drug":"ACTH","phase":"During","value":0,"jitter":-0.12},
      {"region":"Other","drug":"ACTH","phase":"During","value":0,"jitter":-0.05},
      {"region":"Other","drug":"ACTH","phase":"During","value":0,"jitter":0.0},
      {"region":"Other","drug":"ACTH","phase":"During","value":0,"jitter":0.07},
      {"region":"Other","drug":"ACTH","phase":"During","value":0,"jitter":0.13},
      {"region":"Other","drug":"ACTH","phase":"During","value":0,"jitter":0.2},
      {"region":"Other","drug":"ACTH","phase":"During","value":0,"jitter":0.25},
      {"region":"Other","drug":"ACTH","phase":"During","value":0,"jitter":0.3},
      {"region":"Other","drug":"ACTH","phase":"During","value":0,"jitter":0.34},
      {"region":"Other","drug":"ACTH","phase":"During","value":0,"jitter":0.38},

      {"region":"Other","drug":"Oral Steroids","phase":"Before","value":90,"jitter":-0.04},
      {"region":"Other","drug":"Oral Steroids","phase":"Before","value":60,"jitter":-0.13},
      {"region":"Other","drug":"Oral Steroids","phase":"Before","value":50,"jitter":0.07},
      {"region":"Other","drug":"Oral Steroids","phase":"Before","value":30,"jitter":0.28},
      {"region":"Other","drug":"Oral Steroids","phase":"Before","value":25,"jitter":0.2},
      {"region":"Other","drug":"Oral Steroids","phase":"Before","value":10,"jitter":-0.4},
      {"region":"Other","drug":"Oral Steroids","phase":"Before","value":10,"jitter":-0.02},
      {"region":"Other","drug":"Oral Steroids","phase":"Before","value":10,"jitter":0.11},
      {"region":"Other","drug":"Oral Steroids","phase":"Before","value":10,"jitter":0.22},
      {"region":"Other","drug":"Oral Steroids","phase":"Before","value":0,"jitter":-0.37},
      {"region":"Other","drug":"Oral Steroids","phase":"Before","value":0,"jitter":-0.28},
      {"region":"Other","drug":"Oral Steroids","phase":"Before","value":0,"jitter":-0.02},
      {"region":"Other","drug":"Oral Steroids","phase":"Before","value":0,"jitter":0.01},

      {"region":"Other","drug":"Oral Steroids","phase":"During","value":100,"jitter":0.38},
      {"region":"Other","drug":"Oral Steroids","phase":"During","value":90,"jitter":0.39},
      {"region":"Other","drug":"Oral Steroids","phase":"During","value":70,"jitter":0.25},
      {"region":"Other","drug":"Oral Steroids","phase":"During","value":25,"jitter":-0.13},
      {"region":"Other","drug":"Oral Steroids","phase":"During","value":10,"jitter":0.05},
      {"region":"Other","drug":"Oral Steroids","phase":"During","value":0,"jitter":-0.37},
      {"region":"Other","drug":"Oral Steroids","phase":"During","value":0,"jitter":-0.25},
      {"region":"Other","drug":"Oral Steroids","phase":"During","value":0,"jitter":-0.13},
      {"region":"Other","drug":"Oral Steroids","phase":"During","value":0,"jitter":-0.05},
      {"region":"Other","drug":"Oral Steroids","phase":"During","value":0,"jitter":0.16},
      {"region":"Other","drug":"Oral Steroids","phase":"During","value":0,"jitter":0.26},
      {"region":"Other","drug":"Oral Steroids","phase":"During","value":0,"jitter":0.34},
      {"region":"Other","drug":"Oral Steroids","phase":"During","value":0,"jitter":0.39},

      {"region":"Other","drug":"Vigabatrin","phase":"Before","value":100,"jitter":0.19},
      {"region":"Other","drug":"Vigabatrin","phase":"Before","value":90,"jitter":0.08},
      {"region":"Other","drug":"Vigabatrin","phase":"Before","value":90,"jitter":0.27},
      {"region":"Other","drug":"Vigabatrin","phase":"Before","value":85,"jitter":-0.16},
      {"region":"Other","drug":"Vigabatrin","phase":"Before","value":80,"jitter":0.01},
      {"region":"Other","drug":"Vigabatrin","phase":"Before","value":80,"jitter":0.14},
      {"region":"Other","drug":"Vigabatrin","phase":"Before","value":80,"jitter":0.4},
      {"region":"Other","drug":"Vigabatrin","phase":"Before","value":75,"jitter":-0.23},
      {"region":"Other","drug":"Vigabatrin","phase":"Before","value":40,"jitter":0.25},
      {"region":"Other","drug":"Vigabatrin","phase":"Before","value":15,"jitter":-0.24},
      {"region":"Other","drug":"Vigabatrin","phase":"Before","value":10,"jitter":-0.16},
      {"region":"Other","drug":"Vigabatrin","phase":"Before","value":0,"jitter":-0.38},
      {"region":"Other","drug":"Vigabatrin","phase":"Before","value":0,"jitter":-0.14},

      {"region":"Other","drug":"Vigabatrin","phase":"During","value":100,"jitter":-0.12},
      {"region":"Other","drug":"Vigabatrin","phase":"During","value":100,"jitter":-0.01},
      {"region":"Other","drug":"Vigabatrin","phase":"During","value":100,"jitter":0.07},
      {"region":"Other","drug":"Vigabatrin","phase":"During","value":100,"jitter":0.39},
      {"region":"Other","drug":"Vigabatrin","phase":"During","value":90,"jitter":0.23},
      {"region":"Other","drug":"Vigabatrin","phase":"During","value":80,"jitter":-0.13},
      {"region":"Other","drug":"Vigabatrin","phase":"During","value":80,"jitter":0.15},
      {"region":"Other","drug":"Vigabatrin","phase":"During","value":75,"jitter":0.39},
      {"region":"Other","drug":"Vigabatrin","phase":"During","value":20,"jitter":0.0},
      {"region":"Other","drug":"Vigabatrin","phase":"During","value":0,"jitter":-0.4},
      {"region":"Other","drug":"Vigabatrin","phase":"During","value":0,"jitter":-0.22},
      {"region":"Other","drug":"Vigabatrin","phase":"During","value":0,"jitter":-0.17},
      {"region":"Other","drug":"Vigabatrin","phase":"During","value":0,"jitter":0.17},

      {"region":"Other","drug":"Non Standard","phase":"Before","value":90,"jitter":0.22},
      {"region":"Other","drug":"Non Standard","phase":"Before","value":40,"jitter":0.0},
      {"region":"Other","drug":"Non Standard","phase":"Before","value":20,"jitter":-0.22},
      {"region":"Other","drug":"Non Standard","phase":"Before","value":20,"jitter":0.15},
      {"region":"Other","drug":"Non Standard","phase":"Before","value":10,"jitter":-0.34},
      {"region":"Other","drug":"Non Standard","phase":"Before","value":10,"jitter":-0.07},
      {"region":"Other","drug":"Non Standard","phase":"Before","value":10,"jitter":0.11},
      {"region":"Other","drug":"Non Standard","phase":"Before","value":0,"jitter":-0.34},
      {"region":"Other","drug":"Non Standard","phase":"Before","value":0,"jitter":0.13},
      {"region":"Other","drug":"Non Standard","phase":"Before","value":0,"jitter":0.27},
      {"region":"Other","drug":"Non Standard","phase":"Before","value":0,"jitter":0.35},

      {"region":"Other","drug":"Non Standard","phase":"During","value":100,"jitter":0.06},
      {"region":"Other","drug":"Non Standard","phase":"During","value":100,"jitter":0.16},
      {"region":"Other","drug":"Non Standard","phase":"During","value":20,"jitter":0.09},
      {"region":"Other","drug":"Non Standard","phase":"During","value":10,"jitter":-0.26},
      {"region":"Other","drug":"Non Standard","phase":"During","value":0,"jitter":-0.37},
      {"region":"Other","drug":"Non Standard","phase":"During","value":0,"jitter":-0.28},
      {"region":"Other","drug":"Non Standard","phase":"During","value":0,"jitter":-0.18},
      {"region":"Other","drug":"Non Standard","phase":"During","value":0,"jitter":-0.1},
      {"region":"Other","drug":"Non Standard","phase":"During","value":0,"jitter":0.03},
      {"region":"Other","drug":"Non Standard","phase":"During","value":0,"jitter":0.15},
      {"region":"Other","drug":"Non Standard","phase":"During","value":0,"jitter":0.22},
      {"region":"Other","drug":"Non Standard","phase":"During","value":0,"jitter":0.3},
      {"region":"Other","drug":"Non Standard","phase":"During","value":0,"jitter":0.35}
    ]
  },
  "spacing": 10,
  "vconcat": [
    {
      "spacing": -2,
      "hconcat": [
        {
          "transform": [{"filter": "datum.region === 'North America' && datum.kind !== 'rstrip'"}],
          "facet": {"column": {"field": "drug", "type": "nominal", "sort": ["ACTH", "Oral Steroids", "Vigabatrin", "Non Standard"], "header": {"labels": false, "title": null}}},
          "spacing": 13,
          "bounds": "flush",
          "spec": {
            "width": 278, "height": 268,
            "layer": [
              {
                "transform": [{"filter": "isValid(datum.phase)"}],
                "mark": {"type": "boxplot", "extent": 1.5, "outliers": false, "size": 95, "ticks": false,
                  "box": {"fill": "white", "stroke": "#2b2b2b", "strokeWidth": 2},
                  "median": {"color": "#111111", "thickness": 3.2, "opacity": 1},
                  "rule": {"stroke": "#2b2b2b", "strokeWidth": 2}},
                "encoding": {
                  "x": {"field": "phase", "type": "nominal", "title": null, "scale": {"domain": ["Before", "During"], "paddingInner": 0, "paddingOuter": 0.1},
                    "axis": {"title": null, "labels": false, "ticks": false, "domain": false, "grid": true, "gridColor": "#e6e6e6", "gridWidth": 1.6, "bandPosition": 0.5}},
                  "y": {"field": "value", "type": "quantitative", "title": null, "scale": {"domain": [-5, 122.62], "nice": false, "zero": false},
                    "axis": {"title": null, "values": [0, 12.5, 25, 37.5, 50, 62.5, 75, 87.5, 100], "labelExpr": "datum.value % 25 === 0 ? datum.label : ''", "labelOverlap": false, "domain": false, "labelFontSize": 18, "labelFont": "Liberation Sans", "labelColor": "#4d4d4d", "labelPadding": 4, "tickSize": 6, "tickWidth": 1.5,
                      "tickColor": {"condition": {"test": "datum.value % 25 === 0", "value": "#333333"}, "value": "transparent"},
                      "gridColor": "#e6e6e6",
                      "gridWidth": {"condition": {"test": "datum.value % 25 === 0", "value": 1.6}, "value": 0.8}}}
                }
              },
              {
                "transform": [{"filter": "isValid(datum.phase)"}],
                "mark": {"type": "circle", "size": 32, "color": "#3a3a3a", "opacity": 1},
                "encoding": {
                  "x": {"field": "phase", "type": "nominal", "title": null, "scale": {"domain": ["Before", "During"], "paddingInner": 0, "paddingOuter": 0.1}},
                  "xOffset": {"field": "jitter", "type": "quantitative", "scale": {"domain": [-0.5, 0.5]}},
                  "y": {"field": "value", "type": "quantitative", "title": null, "scale": {"domain": [-5, 122.62], "nice": false, "zero": false}}
                }
              },
              {
                "transform": [{"filter": "datum.kind === 'star'"}],
                "mark": {"type": "text", "font": "DejaVu Sans", "fontSize": 28, "fontWeight": "bold", "color": "#1a1a1a", "align": "right", "baseline": "alphabetic", "dx": -5, "dy": -2},
                "encoding": {
                  "text": {"field": "stars"},
                  "x": {"value": "width"},
                  "y": {"datum": 88, "type": "quantitative", "title": null, "scale": {"domain": [-5, 122.62], "nice": false, "zero": false}}
                }
              },
              {
                "transform": [{"filter": "datum.kind === 'strip'"}],
                "mark": {"type": "rect", "fill": "#cccccc", "stroke": "#333333", "strokeWidth": 1.6},
                "encoding": {
                  "y": {"datum": 105, "type": "quantitative", "title": null, "scale": {"domain": [-5, 122.62], "nice": false, "zero": false}},
                  "y2": {"datum": 122.62}
                }
              },
              {
                "transform": [{"filter": "datum.kind === 'strip'"}],
                "mark": {"type": "text", "font": "Liberation Sans", "fontSize": 19.5, "color": "#1a1a1a", "align": "center", "baseline": "middle"},
                "encoding": {
                  "text": {"field": "label"},
                  "y": {"datum": 113.81, "type": "quantitative", "title": null, "scale": {"domain": [-5, 122.62], "nice": false, "zero": false}}
                }
              },
              {
                "transform": [{"filter": "datum.kind === 'strip'"}],
                "mark": {"type": "text", "font": "DejaVu Sans", "fontSize": 28, "fontWeight": "bold", "color": "#1a1a1a", "align": "right", "baseline": "alphabetic", "dx": -5, "dy": -4},
                "encoding": {
                  "text": {"field": "stars"},
                  "x": {"value": "width"},
                  "y": {"datum": 105, "type": "quantitative", "title": null, "scale": {"domain": [-5, 122.62], "nice": false, "zero": false}}
                }
              }
            ]
          }
        },
        {
          "width": 36, "height": 268,
          "view": {"stroke": null, "fill": null},
          "transform": [{"filter": "datum.kind === 'rstrip' && datum.region === 'North America'"}],
          "layer": [
            {
              "mark": {"type": "rect", "fill": "#cccccc", "stroke": "#333333", "strokeWidth": 1.6},
              "encoding": {
                "y": {"datum": -5, "type": "quantitative", "scale": {"domain": [-5, 122.62], "nice": false, "zero": false}, "axis": null},
                "y2": {"datum": 105}
              }
            },
            {
              "mark": {"type": "text", "angle": 90, "font": "Liberation Sans", "fontSize": 19.5, "color": "#1a1a1a", "align": "center", "baseline": "middle"},
              "encoding": {
                "text": {"field": "label"},
                "y": {"datum": 50, "type": "quantitative", "scale": {"domain": [-5, 122.62], "nice": false, "zero": false}, "axis": null}
              }
            }
          ]
        }
      ]
    },
    {
      "spacing": -2,
      "hconcat": [
        {
          "transform": [{"filter": "datum.region === 'Asia' && datum.kind !== 'rstrip'"}],
          "facet": {"column": {"field": "drug", "type": "nominal", "sort": ["ACTH", "Oral Steroids", "Vigabatrin", "Non Standard"], "header": {"labels": false, "title": null}}},
          "spacing": 13,
          "bounds": "flush",
          "spec": {
            "width": 278, "height": 231,
            "layer": [
              {
                "transform": [{"filter": "isValid(datum.phase)"}],
                "mark": {"type": "boxplot", "extent": 1.5, "outliers": false, "size": 95, "ticks": false,
                  "box": {"fill": "white", "stroke": "#2b2b2b", "strokeWidth": 2},
                  "median": {"color": "#111111", "thickness": 3.2, "opacity": 1},
                  "rule": {"stroke": "#2b2b2b", "strokeWidth": 2}},
                "encoding": {
                  "x": {"field": "phase", "type": "nominal", "title": null, "scale": {"domain": ["Before", "During"], "paddingInner": 0, "paddingOuter": 0.1},
                    "axis": {"title": null, "labels": false, "ticks": false, "domain": false, "grid": true, "gridColor": "#e6e6e6", "gridWidth": 1.6, "bandPosition": 0.5}},
                  "y": {"field": "value", "type": "quantitative", "title": null, "scale": {"domain": [-5, 105], "nice": false, "zero": false},
                    "axis": {"title": null, "values": [0, 12.5, 25, 37.5, 50, 62.5, 75, 87.5, 100], "labelExpr": "datum.value % 25 === 0 ? datum.label : ''", "labelOverlap": false, "domain": false, "labelFontSize": 18, "labelFont": "Liberation Sans", "labelColor": "#4d4d4d", "labelPadding": 4, "tickSize": 6, "tickWidth": 1.5,
                      "tickColor": {"condition": {"test": "datum.value % 25 === 0", "value": "#333333"}, "value": "transparent"},
                      "gridColor": "#e6e6e6",
                      "gridWidth": {"condition": {"test": "datum.value % 25 === 0", "value": 1.6}, "value": 0.8}}}
                }
              },
              {
                "transform": [{"filter": "isValid(datum.phase)"}],
                "mark": {"type": "circle", "size": 32, "color": "#3a3a3a", "opacity": 1},
                "encoding": {
                  "x": {"field": "phase", "type": "nominal", "title": null, "scale": {"domain": ["Before", "During"], "paddingInner": 0, "paddingOuter": 0.1}},
                  "xOffset": {"field": "jitter", "type": "quantitative", "scale": {"domain": [-0.5, 0.5]}},
                  "y": {"field": "value", "type": "quantitative", "title": null, "scale": {"domain": [-5, 105], "nice": false, "zero": false}}
                }
              },
              {
                "transform": [{"filter": "datum.kind === 'star'"}],
                "mark": {"type": "text", "font": "DejaVu Sans", "fontSize": 28, "fontWeight": "bold", "color": "#1a1a1a", "align": "right", "baseline": "alphabetic", "dx": -5, "dy": -2},
                "encoding": {
                  "text": {"field": "stars"},
                  "x": {"value": "width"},
                  "y": {"datum": 88, "type": "quantitative", "title": null, "scale": {"domain": [-5, 105], "nice": false, "zero": false}}
                }
              }
            ]
          }
        },
        {
          "width": 36, "height": 231,
          "view": {"stroke": null, "fill": null},
          "transform": [{"filter": "datum.kind === 'rstrip' && datum.region === 'Asia'"}],
          "layer": [
            {
              "mark": {"type": "rect", "fill": "#cccccc", "stroke": "#333333", "strokeWidth": 1.6},
              "encoding": {
                "y": {"datum": -5, "type": "quantitative", "scale": {"domain": [-5, 105], "nice": false, "zero": false}, "axis": null},
                "y2": {"datum": 105}
              }
            },
            {
              "mark": {"type": "text", "angle": 90, "font": "Liberation Sans", "fontSize": 19.5, "color": "#1a1a1a", "align": "center", "baseline": "middle"},
              "encoding": {
                "text": {"field": "label"},
                "y": {"datum": 50, "type": "quantitative", "scale": {"domain": [-5, 105], "nice": false, "zero": false}, "axis": null}
              }
            }
          ]
        }
      ]
    },
    {
      "spacing": -2,
      "hconcat": [
        {
          "transform": [{"filter": "datum.region === 'Other' && datum.kind !== 'rstrip'"}],
          "facet": {"column": {"field": "drug", "type": "nominal", "sort": ["ACTH", "Oral Steroids", "Vigabatrin", "Non Standard"], "header": {"labels": false, "title": null}}},
          "spacing": 13,
          "bounds": "flush",
          "spec": {
            "width": 278, "height": 231,
            "layer": [
              {
                "transform": [{"filter": "isValid(datum.phase)"}],
                "mark": {"type": "boxplot", "extent": 1.5, "outliers": false, "size": 95, "ticks": false,
                  "box": {"fill": "white", "stroke": "#2b2b2b", "strokeWidth": 2},
                  "median": {"color": "#111111", "thickness": 3.2, "opacity": 1},
                  "rule": {"stroke": "#2b2b2b", "strokeWidth": 2}},
                "encoding": {
                  "x": {"field": "phase", "type": "nominal", "title": null, "scale": {"domain": ["Before", "During"], "paddingInner": 0, "paddingOuter": 0.1},
                    "axis": {"title": null, "labels": true, "labelAngle": 0, "labelFontSize": 18, "labelFont": "Liberation Sans", "labelColor": "#4d4d4d", "labelPadding": 2, "ticks": true, "tickSize": 5, "tickWidth": 1.5, "tickColor": "#333333", "domain": false, "grid": true, "gridColor": "#e6e6e6", "gridWidth": 1.6, "bandPosition": 0.5}},
                  "y": {"field": "value", "type": "quantitative", "title": null, "scale": {"domain": [-5, 105], "nice": false, "zero": false},
                    "axis": {"title": null, "values": [0, 12.5, 25, 37.5, 50, 62.5, 75, 87.5, 100], "labelExpr": "datum.value % 25 === 0 ? datum.label : ''", "labelOverlap": false, "domain": false, "labelFontSize": 18, "labelFont": "Liberation Sans", "labelColor": "#4d4d4d", "labelPadding": 4, "tickSize": 6, "tickWidth": 1.5,
                      "tickColor": {"condition": {"test": "datum.value % 25 === 0", "value": "#333333"}, "value": "transparent"},
                      "gridColor": "#e6e6e6",
                      "gridWidth": {"condition": {"test": "datum.value % 25 === 0", "value": 1.6}, "value": 0.8}}}
                }
              },
              {
                "transform": [{"filter": "isValid(datum.phase)"}],
                "mark": {"type": "circle", "size": 32, "color": "#3a3a3a", "opacity": 1},
                "encoding": {
                  "x": {"field": "phase", "type": "nominal", "title": null, "scale": {"domain": ["Before", "During"], "paddingInner": 0, "paddingOuter": 0.1}},
                  "xOffset": {"field": "jitter", "type": "quantitative", "scale": {"domain": [-0.5, 0.5]}},
                  "y": {"field": "value", "type": "quantitative", "title": null, "scale": {"domain": [-5, 105], "nice": false, "zero": false}}
                }
              }
            ]
          }
        },
        {
          "width": 36, "height": 231,
          "view": {"stroke": null, "fill": null},
          "transform": [{"filter": "datum.kind === 'rstrip' && datum.region === 'Other'"}],
          "layer": [
            {
              "mark": {"type": "rect", "fill": "#cccccc", "stroke": "#333333", "strokeWidth": 1.6},
              "encoding": {
                "y": {"datum": -5, "type": "quantitative", "scale": {"domain": [-5, 105], "nice": false, "zero": false}, "axis": null},
                "y2": {"datum": 105}
              }
            },
            {
              "mark": {"type": "text", "angle": 90, "font": "Liberation Sans", "fontSize": 19.5, "color": "#1a1a1a", "align": "center", "baseline": "middle"},
              "encoding": {
                "text": {"field": "label"},
                "y": {"datum": 50, "type": "quantitative", "scale": {"domain": [-5, 105], "nice": false, "zero": false}, "axis": null}
              }
            }
          ]
        }
      ]
    }
  ],
  "config": {
    "font": "Liberation Sans",
    "view": {"stroke": "#333333", "strokeWidth": 1.6, "fill": "white"}
  }
}
